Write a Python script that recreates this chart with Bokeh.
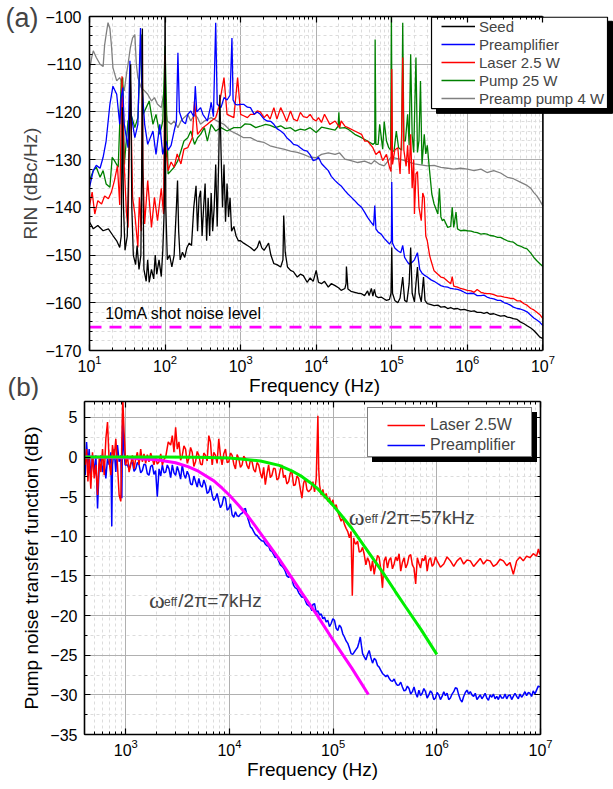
from bokeh.plotting import figure
from bokeh.models import (LogAxis, LinearAxis, Legend, LegendItem, Label, FixedTicker, Range1d)
from bokeh.layouts import column, row
from bokeh.embed import file_html
from bokeh.resources import INLINE
import math

FONT = "Liberation Sans"

# ---------------- panel (a): (log10 frequency [Hz], RIN [dBc/Hz]) ----------------
seed = [(1.00,-143.1),(1.05,-144.5),(1.11,-143.8),(1.18,-144.9),(1.25,-144.5),(1.31,-145.9),(1.36,-147.0),(1.40,-148.4),
 (1.42,-146),(1.435,-119),(1.45,-140),(1.47,-149),(1.50,-146),(1.53,-122),(1.545,-110),(1.56,-140),(1.58,-150),(1.61,-152),
 (1.63,-148),(1.655,-153),(1.68,-150),(1.695,-125),(1.70,-102.5),(1.705,-130),(1.72,-153),(1.75,-155.5),(1.77,-151),(1.79,-155.7),
 (1.82,-153),(1.85,-155),(1.87,-150),(1.89,-154),(1.92,-151),(1.95,-154.5),(1.97,-149),(1.99,-140),(2.00,-95),(2.01,-140),
 (2.03,-151),(2.06,-150),(2.09,-152.5),(2.12,-150),(2.15,-140),(2.165,-134.4),(2.18,-145),(2.20,-151),(2.23,-149.4),(2.26,-150.5),
 (2.29,-148.4),(2.32,-147.5),(2.35,-148),(2.38,-140),(2.41,-135.5),(2.43,-145),(2.45,-138),(2.47,-136.5),(2.49,-146),(2.51,-140),
 (2.53,-135),(2.55,-147),(2.57,-138),(2.59,-146),(2.61,-137),(2.63,-145),(2.65,-140),(2.67,-131),(2.69,-144),(2.71,-130),
 (2.725,-116.4),(2.74,-128),(2.76,-140),(2.78,-131),(2.80,-143),(2.82,-135),(2.84,-142),(2.86,-138),(2.88,-145),(2.91,-144),
 (2.94,-146),(2.97,-147),(3.0,-147),(3.04,-147.5),(3.09,-148),(3.13,-148.4),(3.18,-149.1),(3.22,-148.4),(3.25,-147),(3.28,-148.5),
 (3.31,-149),(3.35,-148),(3.37,-147.5),(3.40,-150),(3.44,-151.8),(3.48,-152),(3.53,-152.5),(3.56,-151),(3.57,-141.7),(3.59,-149.4),
 (3.62,-152.5),(3.66,-153.2),(3.70,-153.5),(3.75,-154.6),(3.79,-154),(3.83,-154.3),(3.88,-155.7),(3.92,-154.8),(3.96,-155.5),(4.0,-153.2),
 (4.03,-155.7),(4.07,-156),(4.11,-155.5),(4.16,-156.7),(4.20,-156),(4.25,-156.4),(4.30,-156.9),(4.33,-157.4),(4.38,-157),(4.395,-156),
 (4.40,-152.4),(4.42,-157.1),(4.46,-157.6),(4.51,-157.8),(4.55,-158),(4.60,-158.1),(4.64,-158.5),(4.68,-157.5),(4.70,-158.5),(4.73,-157),
 (4.75,-158.6),(4.77,-157.2),(4.79,-158.6),(4.82,-158.9),(4.86,-158.8),(4.90,-159.2),(4.93,-159.5),(4.97,-159.3),(4.99,-158),(5.0,-148.4),
 (5.01,-158),(5.04,-159.5),(5.08,-160),(5.11,-159),(5.145,-154.6),(5.17,-159.5),(5.20,-159.8),(5.23,-156),(5.25,-148.4),(5.27,-158),
 (5.30,-159.8),(5.32,-156),(5.34,-152.5),(5.36,-158),(5.39,-159.8),(5.42,-154.6),(5.44,-159.5),(5.47,-160.2),(5.52,-160.4),(5.56,-160.6),
 (5.61,-160.5),(5.65,-160.9),(5.70,-160.8),(5.74,-161.2),(5.78,-161),(5.82,-161.3),(5.87,-161.2),(5.91,-161.5),(5.96,-161.4),(6.0,-161.6),
 (6.05,-161.8),(6.09,-161.7),(6.13,-162),(6.18,-162),(6.22,-162.2),(6.26,-162),(6.30,-162.4),(6.35,-162.3),(6.40,-162.6),(6.44,-162.8),
 (6.49,-162.7),(6.53,-163),(6.57,-163.1),(6.61,-163.3),(6.66,-163.5),(6.70,-164.0),(6.75,-164.4),(6.79,-164.8),(6.84,-165.3),(6.88,-165.8),
 (6.92,-166.5),(6.96,-167.2),(7.0,-167.5)]

preamp = [(1.00,-135.8),(1.05,-132.3),(1.09,-131.2),(1.14,-131.8),(1.18,-129.5),(1.22,-126.1),(1.27,-118.4),(1.31,-114.6),(1.36,-116.3),
 (1.40,-122.6),(1.42,-117),(1.44,-114.9),(1.46,-122.6),(1.51,-127.5),(1.535,-109.3),(1.55,-120.5),(1.60,-125.4),(1.64,-122.6),(1.675,-102.4),
 (1.69,-113.5),(1.73,-122.6),(1.77,-126.8),(1.84,-124),(1.88,-128.9),(1.93,-122.6),(1.97,-128.9),(2.01,-126),(2.04,-128),(2.08,-127),
 (2.12,-124),(2.15,-122),(2.17,-107.6),(2.19,-120),(2.23,-121.9),(2.27,-122.5),(2.30,-120.5),(2.34,-119.8),(2.38,-121),(2.40,-114.6),
 (2.42,-120),(2.47,-119.1),(2.50,-120.5),(2.56,-121.9),(2.60,-119),(2.61,-118),(2.64,-121),(2.67,-101.3),(2.69,-118.4),(2.74,-119.1),
 (2.78,-117),(2.82,-117.5),(2.86,-116.5),(2.885,-104.5),(2.90,-117.5),(2.93,-118.4),(2.96,-118.5),(3.0,-118.4),(3.04,-118.4),(3.09,-119),
 (3.13,-119.1),(3.18,-120.5),(3.22,-120),(3.26,-120.5),(3.31,-121.5),(3.35,-121.9),(3.40,-122),(3.44,-122.6),(3.48,-123.5),(3.53,-124),
 (3.57,-124.5),(3.61,-125.4),(3.66,-126.1),(3.70,-126.8),(3.75,-127),(3.79,-127.5),(3.83,-128),(3.88,-128.2),(3.92,-129),(3.96,-130.2),
 (4.0,-130),(4.03,-129.5),(4.07,-130.8),(4.11,-131.5),(4.16,-132.3),(4.20,-133.5),(4.25,-134.4),(4.29,-135),(4.33,-135.5),(4.38,-136.5),
 (4.42,-137.2),(4.46,-137.8),(4.51,-138.6),(4.55,-139.3),(4.60,-140),(4.64,-141),(4.68,-142.1),(4.72,-143),(4.76,-143.8),(4.775,-139.6),
 (4.79,-144.5),(4.82,-145.2),(4.86,-145.6),(4.90,-146.5),(4.93,-147),(4.97,-147.7),(4.995,-147),(5.0,-134.7),(5.01,-147.5),(5.04,-148.5),
 (5.08,-149.1),(5.12,-149.5),(5.145,-148.0),(5.17,-150.5),(5.21,-151.5),(5.23,-151.9),(5.27,-151.5),(5.30,-151),(5.34,-149.5),(5.37,-153),
 (5.40,-153.8),(5.43,-154.2),(5.47,-154.6),(5.52,-155.2),(5.56,-155.5),(5.61,-156),(5.65,-156.4),(5.69,-156.6),(5.74,-156.7),(5.78,-157),
 (5.82,-157.1),(5.87,-157.2),(5.91,-157.4),(5.96,-157.8),(6.0,-158.1),(6.05,-158),(6.09,-158.1),(6.13,-158.5),(6.18,-158.5),(6.22,-158.4),
 (6.26,-158.8),(6.30,-159),(6.35,-159.2),(6.40,-159.5),(6.44,-159.5),(6.49,-160),(6.53,-160.2),(6.57,-160.5),(6.61,-160.9),(6.66,-161.2),
 (6.70,-161.3),(6.75,-161.6),(6.79,-161.9),(6.84,-162.6),(6.88,-163.2),(6.92,-163.6),(6.96,-164.1),(7.0,-164.8)]

laser = [(1.00,-139.7),(1.035,-136.8),(1.07,-141.4),(1.11,-138.6),(1.16,-139.3),(1.20,-137.6),(1.25,-138.2),(1.29,-136.8),(1.33,-134.4),
 (1.37,-131.3),(1.40,-139.5),(1.43,-112.5),(1.46,-131.5),(1.49,-141.4),(1.51,-144.2),(1.54,-112.5),(1.57,-137.9),(1.60,-141.4),(1.64,-148.4),
 (1.66,-137.9),(1.684,-145),(1.695,-125),(1.70,-104),(1.705,-131.6),(1.73,-143.5),(1.77,-134.4),(1.82,-144.2),(1.86,-137.9),(1.90,-142.8),
 (1.95,-136),(1.98,-141.4),(2.00,-108),(2.01,-127.5),(2.04,-132.3),(2.08,-130.5),(2.12,-131.6),(2.16,-128.8),(2.21,-130.9),(2.25,-127.8),
 (2.30,-127.5),(2.36,-125.4),(2.39,-117.7),(2.43,-124.7),(2.50,-123.3),(2.56,-122.6),(2.61,-121.9),(2.67,-121.2),(2.71,-119.1),(2.78,-112.8),
 (2.82,-120.5),(2.91,-121.2),(2.96,-112.8),(3.0,-120.5),(3.04,-120.8),(3.09,-121.2),(3.13,-120.5),(3.18,-120.5),(3.22,-119.8),(3.26,-120),
 (3.31,-121.2),(3.35,-120.5),(3.39,-121.5),(3.44,-119.1),(3.48,-121.5),(3.53,-119.1),(3.57,-120.5),(3.61,-122),(3.66,-119.8),(3.70,-121.5),
 (3.75,-121.9),(3.79,-120.1),(3.83,-121),(3.88,-121.2),(3.92,-120.5),(3.96,-121.5),(4.0,-121.9),(4.03,-121.2),(4.07,-122.2),(4.11,-120.5),
 (4.18,-122.6),(4.25,-121.9),(4.31,-123.3),(4.33,-121.9),(4.38,-123),(4.42,-123.3),(4.51,-124),(4.60,-124.7),(4.64,-126.1),(4.68,-126.1),
 (4.75,-127.5),(4.79,-128.9),(4.84,-128.2),(4.88,-130.2),(4.93,-128.9),(4.97,-131.6),(4.99,-132.5),(5.0,-111),(5.01,-131),(5.04,-128),
 (5.08,-127.5),(5.11,-133),(5.13,-125),(5.145,-108.6),(5.16,-128),(5.19,-131.4),(5.21,-127),(5.23,-133),(5.25,-124.7),(5.27,-136),
 (5.29,-130),(5.30,-141.4),(5.32,-133),(5.34,-132.5),(5.36,-140),(5.39,-142.8),(5.41,-137),(5.43,-138),(5.45,-146),(5.47,-147),
 (5.50,-150),(5.52,-151.2),(5.56,-153.3),(5.61,-154),(5.65,-154.6),(5.69,-154.8),(5.74,-155.5),(5.78,-156),(5.80,-154.5),(5.82,-156.5),
 (5.87,-156.7),(5.91,-157),(5.96,-157.2),(6.0,-157.4),(6.05,-157.5),(6.09,-157.8),(6.13,-157.2),(6.18,-157.8),(6.22,-158),(6.26,-158.1),
 (6.30,-158.1),(6.35,-158.3),(6.40,-158.6),(6.44,-158.6),(6.49,-158.8),(6.53,-158.9),(6.57,-159.1),(6.61,-159.1),(6.66,-159.6),(6.70,-159.6),
 (6.75,-160.2),(6.79,-160.5),(6.84,-161.2),(6.88,-161.5),(6.92,-162),(6.96,-162.5),(7.0,-163.3)]

pump = [(1.00,-134.4),(1.05,-132.3),(1.09,-131.6),(1.14,-133.7),(1.18,-132.3),(1.22,-135.1),(1.27,-135.8),(1.30,-129.5),(1.33,-130.2),
 (1.38,-131.6),(1.42,-113.5),(1.44,-112.8),(1.46,-131),(1.51,-121.9),(1.55,-120.5),(1.60,-123.3),(1.64,-121.2),(1.684,-103.8),(1.71,-120.5),
 (1.75,-119.1),(1.79,-117.7),(1.84,-122.6),(1.88,-120.5),(1.93,-124.7),(1.97,-121.9),(2.00,-106.2),(2.04,-133.0),(2.08,-132.3),(2.12,-131.6),
 (2.17,-130.2),(2.21,-128.2),(2.25,-126.1),(2.30,-125.4),(2.34,-124),(2.39,-126.8),(2.43,-125.4),(2.47,-124.7),(2.52,-123.3),(2.56,-126.1),
 (2.61,-122.6),(2.67,-124),(2.74,-123.3),(2.82,-124),(2.91,-123.3),(3.0,-123.3),(3.06,-122.5),(3.13,-122.6),(3.20,-123.3),(3.26,-123),
 (3.33,-122.6),(3.39,-122.8),(3.46,-123.3),(3.53,-122.9),(3.59,-123.5),(3.66,-123.3),(3.72,-124),(3.79,-123.6),(3.85,-123.8),(3.92,-123.3),
 (4.0,-124.3),(4.07,-123.2),(4.16,-123.5),(4.25,-123.8),(4.29,-123),(4.30,-120.1),(4.31,-123.4),(4.38,-123.3),(4.42,-123.6),(4.51,-124.7),
 (4.60,-125.4),(4.68,-126.1),(4.75,-126.8),(4.775,-126.5),(4.78,-104.8),(4.79,-126.8),(4.82,-126.8),(4.84,-122.6),(4.88,-127.8),(4.90,-122),
 (4.93,-126.1),(4.96,-127.5),(4.985,-128),(4.995,-99.5),(5.005,-128.2),(5.03,-128.2),(5.06,-124),(5.09,-127.5),(5.13,-128),(5.145,-101.3),
 (5.16,-126),(5.18,-126.1),(5.21,-120.5),(5.23,-127),(5.25,-107.9),(5.27,-125),(5.29,-128.5),(5.32,-108.6),(5.34,-128.5),(5.36,-126),
 (5.38,-113.5),(5.40,-131),(5.43,-124.7),(5.45,-128.8),(5.47,-127),(5.50,-132.3),(5.53,-137.2),(5.56,-139.3),(5.61,-141.4),(5.63,-136),
 (5.65,-142),(5.67,-142.8),(5.69,-142.5),(5.74,-144.2),(5.78,-144),(5.80,-140),(5.82,-144.2),(5.85,-141),(5.87,-144.5),(5.91,-144.9),
 (5.96,-144.8),(6.0,-144.9),(6.05,-145),(6.09,-145.2),(6.13,-145.3),(6.18,-145.6),(6.22,-145.5),(6.26,-145.6),(6.30,-145.9),(6.35,-146),
 (6.40,-146.3),(6.44,-146.3),(6.49,-146.7),(6.53,-147),(6.57,-147.2),(6.61,-147.3),(6.66,-147.9),(6.70,-148.1),(6.75,-148.5),(6.79,-148.7),
 (6.84,-149.6),(6.88,-150.5),(6.92,-151.2),(6.96,-151.8),(7.0,-152.4)]

preamp_pump = [(1.00,-111.4),(1.03,-108.5),(1.05,-107.2),(1.09,-108.6),(1.14,-110.0),(1.18,-110.5),(1.20,-106),(1.22,-103.8),(1.245,-101.3),
 (1.27,-102.5),(1.29,-106),(1.31,-110.7),(1.36,-113.5),(1.40,-112.8),(1.42,-113.5),(1.46,-115.6),(1.49,-112),(1.51,-110),(1.54,-106.6),
 (1.57,-104.5),(1.60,-103.8),(1.62,-110.0),(1.64,-112.8),(1.684,-114.9),(1.73,-115.6),(1.77,-116.3),(1.82,-117.7),(1.86,-117),(1.90,-118.4),
 (1.95,-119.1),(1.98,-116.3),(2.03,-121.9),(2.08,-122.6),(2.12,-121.9),(2.17,-123.3),(2.21,-121.9),(2.25,-121.2),(2.30,-120.5),(2.34,-121.9),
 (2.39,-120.5),(2.43,-121.2),(2.47,-122.6),(2.52,-121.9),(2.61,-121.2),(2.69,-121.9),(2.78,-122.6),(2.87,-124),(2.96,-124.7),(3.04,-125.4),
 (3.13,-125.4),(3.22,-126.1),(3.31,-126.4),(3.39,-127.1),(3.48,-127.5),(3.57,-127.8),(3.66,-128.2),(3.75,-128.5),(3.83,-128.9),(3.92,-129.5),
 (4.0,-129.6),(4.07,-128.9),(4.16,-128.6),(4.25,-128.9),(4.31,-128.6),(4.38,-129.9),(4.46,-130.2),(4.55,-130.6),(4.64,-130.3),(4.73,-130.9),
 (4.77,-130.2),(4.84,-131.0),(4.90,-131.3),(4.99,-129.5),(5.08,-129.8),(5.17,-130.2),(5.30,-130.9),(5.47,-131.3),(5.56,-131.2),(5.65,-131.6),
 (5.74,-131.8),(5.82,-132),(5.91,-131.8),(6.0,-132),(6.09,-132.3),(6.18,-132),(6.26,-132.7),(6.35,-132.3),(6.44,-132.8),(6.53,-133.7),
 (6.61,-134),(6.70,-134.7),(6.79,-135.4),(6.84,-136),(6.88,-136.9),(6.92,-137.6),(6.96,-138.6),(7.0,-139.7)]

shot_noise_logf = [1.0, 6.8]
shot_noise_db = [-165.1, -165.1]

# ---------------- panel (b): (log10 frequency [Hz], transfer function [dB]) ----------------
tf_laser = [(2.609,-1.0),(2.622,1.0),(2.635,-3.1),(2.647,-0.2),(2.663,-4.0),(2.679,0.6),(2.696,-2.7),(2.712,-1.0),(2.728,-4.8),(2.744,-0.2),
 (2.760,-1.9),(2.776,1.0),(2.792,-2.3),(2.808,2.3),(2.824,4.4),(2.840,-0.6),(2.856,-2.3),(2.872,1.5),(2.888,-0.2),(2.904,2.3),(2.920,-1.0),
 (2.936,-4.8),(2.952,-5.6),(2.962,1.9),(2.971,7.5),(2.984,3.1),(3.0,-1.0),(3.016,0.2),(3.032,-1.9),(3.048,-1.0),(3.064,0.2),(3.080,-1.5),
 (3.096,-0.2),(3.112,0.6),(3.128,-1.0),(3.144,1.0),(3.160,-0.6),(3.176,0.4),(3.192,-0.8),(3.208,0.3),(3.224,-0.6),(3.240,0.5),(3.256,-0.2),
 (3.272,-1.0),(3.288,0.0),(3.304,-0.9),(3.321,-0.6),(3.337,0.4),(3.353,-1.0),(3.369,-0.3),(3.385,0.0),(3.410,1.9),(3.433,1.5),(3.449,2.7),
 (3.465,0.6),(3.481,3.75),(3.497,1.0),(3.513,1.9),(3.529,-0.4),(3.545,0.2),(3.561,1.4),(3.577,1.0),(3.593,-0.8),(3.609,-0.2),(3.625,1.2),
 (3.641,0.6),(3.657,-1.2),(3.673,-0.6),(3.689,0.7),(3.705,0.2),(3.721,-0.9),(3.737,-1.0),(3.753,0.5),(3.769,0.2),(3.785,-0.5),(3.801,2.7),
 (3.817,1.9),(3.833,-1.0),(3.849,0.6),(3.865,0.2),(3.881,-0.8),(3.897,2.3),(3.913,0.2),(3.929,-1.0),(3.945,0.4),(3.962,1.0),(3.978,-0.7),
 (3.994,-0.6),(4.010,0.5),(4.026,0.2),(4.042,-0.9),(4.058,-1.5),(4.074,0.3),(4.090,-0.2),(4.106,-1.3),(4.122,-1.0),(4.138,0.1),(4.154,-0.2),
 (4.170,-1.1),(4.186,-1.5),(4.202,-0.4),(4.218,-0.6),(4.234,-1.6),(4.250,-1.9),(4.266,-0.7),(4.282,-1.0),(4.298,-2.0),(4.314,-2.7),
 (4.330,-1.3),(4.346,-3.5),(4.362,-2.1),(4.378,-1.0),(4.394,-2.6),(4.410,-2.3),(4.426,-1.4),(4.442,-1.5),(4.458,-2.9),(4.474,-2.7),
 (4.490,-1.6),(4.506,-1.0),(4.522,-2.6),(4.538,-2.3),(4.554,-3.4),(4.571,-3.1),(4.587,-2.0),(4.603,-1.9),(4.619,-3.6),(4.635,-3.5),
 (4.651,-2.4),(4.667,-2.7),(4.683,-4.0),(4.699,-5.2),(4.715,-3.3),(4.731,-2.7),(4.747,-4.1),(4.763,-4.4),(4.789,-4.0),(4.805,-3.1),
 (4.821,-4.4),(4.837,-2.7),(4.853,5.2),(4.861,-1.5),(4.869,-3.5),(4.885,-4.8),(4.901,-4.1),(4.917,-5.2),(4.933,-4.6),(4.949,-5.6),
 (4.965,-5.1),(4.981,-6.0),(4.997,-5.4),(5.013,-6.5),(5.029,-6.0),(5.045,-6.9),(5.061,-7.5),(5.077,-8.1),(5.093,-7.7),(5.109,-8.5),
 (5.125,-9.0),(5.141,-9.4),(5.157,-10.2),(5.173,-9.4),(5.185,-17.5),(5.198,-10.2),(5.209,-10.8),(5.220,-11.0),(5.236,-10.6),(5.252,-12.0),
 (5.268,-11.9),(5.284,-11.4),(5.300,-12.3),(5.316,-13.6),(5.332,-12.7),(5.348,-13.2),(5.364,-14.4),(5.380,-13.1),(5.396,-14.8),
 (5.412,-13.5),(5.428,-12.4),(5.444,-12.7),(5.460,-14.2),(5.476,-16.5),(5.492,-13.1),(5.508,-12.6),(5.524,-14.0),(5.540,-13.0),
 (5.556,-12.7),(5.572,-14.1),(5.588,-13.5),(5.604,-12.6),(5.620,-13.1),(5.636,-12.2),(5.652,-14.4),(5.668,-13.3),(5.684,-12.7),
 (5.700,-14.0),(5.716,-13.5),(5.732,-12.5),(5.748,-12.3),(5.764,-13.6),(5.780,-14.0),(5.796,-16.0),(5.812,-12.7),(5.827,-13.4),
 (5.843,-14.0),(5.859,-12.8),(5.875,-13.1),(5.891,-12.4),(5.907,-14.4),(5.923,-13.0),(5.939,-12.7),(5.955,-13.8),(5.971,-13.5),
 (5.987,-12.6),(6.003,-13.1),(6.035,-13.9),(6.067,-13.5),(6.099,-12.6),(6.131,-13.1),(6.163,-13.8),(6.195,-13.1),(6.227,-12.7),
 (6.259,-13.5),(6.291,-13.0),(6.323,-13.1),(6.355,-13.8),(6.387,-13.3),(6.419,-12.8),(6.450,-13.5),(6.482,-13.0),(6.514,-13.1),
 (6.546,-13.8),(6.578,-13.5),(6.610,-12.9),(6.642,-13.1),(6.674,-13.7),(6.706,-13.3),(6.738,-14.8),(6.770,-13.1),(6.802,-12.6),
 (6.834,-13.1),(6.866,-12.5),(6.898,-12.7),(6.930,-12.2),(6.962,-12.5),(6.980,-11.6),(6.994,-12.3)]

tf_preamp = [(2.609,-2.3),(2.622,1.9),(2.635,-1.0),(2.647,1.0),(2.663,-2.7),(2.679,0.2),(2.696,-1.9),(2.712,0.2),(2.728,-6.5),(2.744,-1.0),
 (2.760,0.2),(2.776,-1.9),(2.792,-0.6),(2.808,-2.7),(2.824,-0.2),(2.840,-1.0),(2.856,0.6),(2.865,-8.75),(2.872,-1.0),(2.888,1.0),
 (2.904,-1.9),(2.920,1.5),(2.936,-0.6),(2.952,0.2),(2.962,-5.2),(2.971,5.4),(2.981,1.0),(2.994,-1.0),(3.016,-1.0),(3.032,-1.5),
 (3.048,-0.8),(3.064,-0.6),(3.080,-1.8),(3.096,-1.5),(3.112,-0.7),(3.128,-1.0),(3.144,-2.0),(3.160,-1.7),(3.176,-0.9),(3.192,-1.0),
 (3.208,-2.1),(3.224,-2.3),(3.240,-1.2),(3.256,-1.0),(3.272,-2.2),(3.288,-1.7),(3.304,-5.0),(3.321,-1.5),(3.337,-2.4),(3.353,-1.0),
 (3.369,-2.0),(3.385,-1.9),(3.401,-1.0),(3.417,-1.5),(3.433,-2.6),(3.449,-1.0),(3.465,-2.0),(3.481,-2.3),(3.497,-1.2),(3.513,-1.9),
 (3.529,-2.8),(3.545,-1.0),(3.561,-2.2),(3.577,-2.7),(3.593,-1.8),(3.609,-2.3),(3.625,-3.4),(3.641,-3.5),(3.657,-2.4),(3.673,-3.1),
 (3.689,-3.8),(3.705,-2.7),(3.721,-3.6),(3.737,-3.8),(3.753,-2.9),(3.769,-3.5),(3.785,-4.6),(3.801,-4.4),(3.817,-3.6),(3.833,-4.8),
 (3.849,-5.5),(3.865,-5.2),(3.881,-4.6),(3.897,-5.6),(3.913,-6.4),(3.929,-6.0),(3.945,-5.0),(3.962,-5.2),(3.978,-6.7),(3.994,-6.5),
 (4.010,-5.9),(4.026,-7.3),(4.042,-7.6),(4.058,-6.9),(4.074,-7.4),(4.090,-7.5),(4.106,-7.2),(4.122,-7.1),(4.138,-6.6),(4.154,-6.5),
 (4.170,-7.4),(4.186,-8.1),(4.202,-8.8),(4.218,-9.0),(4.234,-9.4),(4.250,-9.8),(4.266,-9.9),(4.282,-10.2),(4.298,-10.4),(4.314,-10.6),
 (4.330,-10.6),(4.346,-11.0),(4.362,-11.2),(4.378,-11.25),(4.394,-11.8),(4.410,-11.9),(4.426,-12.3),(4.442,-12.7),(4.458,-12.6),
 (4.474,-13.1),(4.490,-13.6),(4.506,-13.75),(4.522,-14.0),(4.538,-14.4),(4.554,-15.0),(4.571,-15.2),(4.587,-14.9),(4.603,-15.4),
 (4.619,-16.2),(4.635,-16.5),(4.651,-16.6),(4.667,-17.1),(4.683,-17.4),(4.699,-17.7),(4.715,-17.6),(4.731,-18.1),(4.747,-18.6),
 (4.763,-18.75),(4.779,-18.9),(4.795,-19.4),(4.805,-18.6),(4.821,-18.5),(4.837,-19.6),(4.853,-19.4),(4.869,-19.9),(4.885,-19.8),
 (4.901,-20.4),(4.917,-20.2),(4.933,-20.8),(4.949,-20.6),(4.965,-21.4),(4.981,-21.0),(4.997,-20.4),(5.013,-20.6),(5.029,-21.6),
 (5.045,-21.9),(5.061,-21.2),(5.077,-21.5),(5.093,-22.3),(5.109,-22.7),(5.125,-23.2),(5.141,-23.5),(5.157,-24.1),(5.173,-24.8),
 (5.189,-24.9),(5.204,-24.6),(5.220,-24.3),(5.236,-24.0),(5.249,-23.4),(5.262,-22.7),(5.273,-23.8),(5.284,-24.8),(5.300,-25.2),
 (5.316,-25.6),(5.332,-24.9),(5.348,-24.4),(5.364,-25.3),(5.380,-26.0),(5.396,-25.4),(5.412,-25.6),(5.428,-26.3),(5.444,-26.5),
 (5.460,-26.9),(5.476,-27.3),(5.492,-27.5),(5.508,-27.7),(5.524,-27.5),(5.540,-27.9),(5.556,-28.2),(5.572,-28.3),(5.588,-28.0),
 (5.604,-28.5),(5.620,-28.8),(5.636,-28.75),(5.652,-28.4),(5.668,-29.0),(5.684,-29.5),(5.700,-29.4),(5.716,-28.9),(5.732,-29.2),
 (5.748,-29.9),(5.764,-29.6),(5.780,-29.0),(5.796,-29.8),(5.812,-30.3),(5.827,-29.4),(5.843,-30.1),(5.859,-29.8),(5.875,-29.2),
 (5.891,-29.6),(5.907,-30.4),(5.923,-30.0),(5.939,-29.5),(5.955,-29.8),(5.971,-30.6),(5.987,-30.4),(6.003,-29.7),(6.019,-30.0),
 (6.035,-30.6),(6.051,-30.2),(6.067,-29.6),(6.083,-30.1),(6.099,-29.8),(6.115,-30.6),(6.131,-30.4),(6.147,-29.9),(6.163,-29.6),
 (6.179,-29.1),(6.195,-29.2),(6.211,-30.0),(6.227,-30.6),(6.243,-30.9),(6.259,-30.2),(6.275,-29.7),(6.291,-29.4),(6.307,-29.9),
 (6.323,-29.6),(6.339,-30.0),(6.355,-30.2),(6.371,-29.8),(6.387,-30.6),(6.403,-30.3),(6.419,-30.0),(6.435,-30.5),(6.450,-30.2),
 (6.466,-29.8),(6.482,-30.4),(6.498,-30.7),(6.514,-30.0),(6.530,-30.3),(6.546,-29.9),(6.562,-30.5),(6.578,-30.2),(6.594,-30.6),
 (6.610,-30.0),(6.626,-30.4),(6.642,-30.4),(6.658,-29.9),(6.674,-30.5),(6.690,-30.1),(6.706,-30.0),(6.722,-30.6),(6.738,-30.2),
 (6.754,-29.8),(6.770,-30.2),(6.786,-30.5),(6.802,-29.9),(6.818,-30.3),(6.834,-30.0),(6.850,-29.6),(6.866,-30.1),(6.882,-29.7),
 (6.898,-29.8),(6.914,-30.2),(6.930,-29.5),(6.946,-29.9),(6.962,-29.4),(6.978,-28.9),(6.994,-29.0)]

fit57 = [(2.60,0.0),(3.0,-0.0),(3.3,-0.01),(3.7,-0.03),(4.0,-0.13),(4.3,-0.50),(4.48,-1.06),(4.6,-1.74),(4.7,-2.48),(4.78,-3.24),
 (4.85,-3.99),(4.9,-4.68),(5.0,-6.10),(5.09,-7.53),(5.18,-8.99),(5.3,-11.24),(5.4,-13.1),(5.48,-14.58),(5.6,-16.97),(5.7,-18.92),
 (5.85,-21.81),(6.0,-24.90)]
fit7 = [(2.60,-0.01),(3.0,-0.09),(3.3,-0.34),(3.48,-0.73),(3.6,-1.22),(3.7,-1.79),(3.85,-3.01),(3.93,-3.94),(4.0,-4.83),(4.09,-6.12),
 (4.18,-7.48),(4.3,-9.62),(4.48,-12.87),(4.7,-17.16),(4.85,-20.04),(5.0,-23.12),(5.18,-26.63),(5.34,-29.95)]

series_a = [("Seed", seed, "#000000"), ("Preamplifier", preamp, "#0000ff"), ("Laser 2.5 W", laser, "#ff0000"),
            ("Pump 25 W", pump, "#008000"), ("Preamp pump 4 W", preamp_pump, "#808080")]


def unz(pairs):
    return [10 ** p[0] for p in pairs], [p[1] for p in pairs]


def style_axis(ax, labels=True):
    ax.axis_line_color = "black"
    ax.axis_line_width = 1.6
    ax.major_tick_line_color = "black"
    ax.major_tick_line_width = 1.2
    ax.minor_tick_line_color = "black"
    ax.major_tick_in = 6
    ax.major_tick_out = 0
    ax.minor_tick_in = 3
    ax.minor_tick_out = 0
    ax.major_label_text_font = FONT
    ax.major_label_text_color = "black"
    ax.major_label_text_font_size = "16px" if labels else "2px"
    if not labels:
        ax.major_label_text_alpha = 0
    ax.axis_label_text_font = FONT
    ax.axis_label_text_font_size = "19px"
    ax.axis_label_text_font_style = "normal"
    ax.axis_label_text_color = "black"


def style_fig(p, xt, yt, with_right=True, xbounds="auto"):
    bottom, left = p.xaxis[0], p.yaxis[0]
    bottom.ticker = xt
    left.ticker = yt
    p.xgrid[0].ticker = xt
    p.ygrid[0].ticker = yt
    for g in (p.xgrid[0], p.ygrid[0]):
        g.grid_line_color = "#b0b0b0"
        g.grid_line_width = 1
        g.minor_grid_line_color = "#dcdcdc"
        g.minor_grid_line_dash = "3 3"
        g.minor_grid_line_width = 1
    style_axis(bottom)
    style_axis(left)
    bottom.bounds = xbounds
    top = LogAxis(ticker=xt, bounds=xbounds)
    style_axis(top, labels=False)
    top.major_label_standoff = 0
    p.add_layout(top, "above")
    if with_right:
        right = LinearAxis(ticker=yt)
        style_axis(right, labels=False)
        right.major_label_standoff = 0
        p.add_layout(right, "right")
    p.outline_line_color = None
    p.background_fill_color = "white"
    p.border_fill_color = "white"
    return bottom, left


def box_legends(p, dummy, x, y, w, h):
    for dx, dy, fill, border in ((5, -5, "black", "black"), (0, 0, "white", "black")):
        lg = Legend(items=[LegendItem(label="x", renderers=[dummy])], location=(x + dx, y + dy),
                    padding=0, spacing=0, margin=0, glyph_width=2, glyph_height=h, label_width=w - 2,
                    label_height=h, label_standoff=0, background_fill_color=fill, background_fill_alpha=1,
                    border_line_color=border, border_line_width=1.2, label_text_alpha=0,
                    label_text_font_size="8px")
        p.add_layout(lg)


# ---------------- left strip with panel letters and the RIN axis title ----------------
pl = figure(width=42, height=400, x_range=Range1d(0, 1), y_range=Range1d(0, 1), output_backend="svg",
            toolbar_location=None, min_border=0, min_border_left=0, min_border_right=0, min_border_top=0,
            min_border_bottom=0, x_axis_location=None, y_axis_location=None, frame_align=False)
pl.grid.visible = False
pl.outline_line_color = None
pl.add_layout(Label(x=5, y=382.5, x_units="screen", y_units="screen", text="(a)", text_font=FONT,
                    text_font_size="27px", text_baseline="middle"))
pl.add_layout(Label(x=7, y=14, x_units="screen", y_units="screen", text="(b)", text_font=FONT,
                    text_font_size="26px", text_baseline="middle"))
pl.add_layout(Label(x=30, y=217, x_units="screen", y_units="screen", text="RIN (dBc/Hz)", text_font=FONT,
                    text_font_size="19px", text_baseline="middle", text_align="center", angle=math.pi / 2))

# ---------------- figure (a) ----------------
XA_END = 10 ** (1 + 527 / 76)
pa = figure(width=571, height=400, x_axis_type="log", x_range=Range1d(10, XA_END), y_range=Range1d(-170, -100),
            output_backend="svg", toolbar_location=None, min_border_left=44, min_border_right=0,
            min_border_top=16, min_border_bottom=50, frame_align=False)
xa_t = FixedTicker(ticks=[10 ** k for k in range(1, 8)],
                   minor_ticks=[m * 10 ** k for k in range(1, 7) for m in range(2, 10)])
ya_t = FixedTicker(ticks=list(range(-170, -99, 10)), minor_ticks=list(range(-170, -99, 2)))
a_bottom, a_left = style_fig(pa, xa_t, ya_t, with_right=False, xbounds=(10, 1e7))
a_bottom.axis_label = "Frequency (Hz)" + "\u00a0" * 14
a_bottom.major_label_standoff = 4
a_bottom.axis_label_standoff = 0
a_left.major_label_standoff = 8

# horizontal grid lines stop at the 10^7 edge of the panel
ygrid_a = pa.ygrid[0]
has_cross_bounds = "cross_bounds" in ygrid_a.properties()
if has_cross_bounds:
    ygrid_a.cross_bounds = (10, 1e7)

renderers_a = []
for name, data, color in series_a[::-1]:
    fx, fy = unz(data)
    r = pa.line(fx, fy, line_color=color, line_width=1.3)
    renderers_a.append((name, r))
renderers_a = renderers_a[::-1]

sx = [10 ** v for v in shot_noise_logf]
pa.line(sx, shot_noise_db, line_color="#ff00ff", line_width=2.6, line_dash="12 8")
pa.add_layout(Label(x=16.2, y=-162.3, text="10mA shot noise level", text_font=FONT,
                    text_font_size="16px", text_color="black", text_baseline="alphabetic"))

if not has_cross_bounds:
    pa.quad(left=[1e7], right=[XA_END * 2], bottom=[-200], top=[-90], fill_color="white", fill_alpha=1,
            line_alpha=0)
# right frame edge at 10^7
pa.line(x=[1e7, 1e7], y=[-200, -90], line_color="black", line_width=1.6)
# legend frame with drop shadow
pa.quad(left=[10 ** 5.592], right=[10 ** 7.921], bottom=[-120.3], top=[-101.0],
        fill_color="black", fill_alpha=1, line_color="black", line_width=1)
pa.quad(left=[10 ** 5.526], right=[10 ** 7.855], bottom=[-119.3], top=[-100.15],
        fill_color="white", fill_alpha=1, line_color="black", line_width=1.2)
leg_a = Legend(items=[LegendItem(label=n, renderers=[r]) for n, r in renderers_a], location=(352, 243),
               padding=0, spacing=0, margin=0, glyph_width=34, glyph_height=18, label_height=18,
               label_standoff=4, label_text_font=FONT, label_text_font_size="15px",
               background_fill_alpha=0, border_line_alpha=0)
pa.add_layout(leg_a)

# ---------------- figure (b) ----------------
pb = figure(width=613, height=389, x_axis_type="log", x_range=Range1d(400, 1e7), y_range=Range1d(-35, 7),
            output_backend="svg", toolbar_location=None, min_border_left=84, min_border_right=73,
            min_border_top=1, min_border_bottom=55, frame_align=False)
xb_t = FixedTicker(ticks=[10 ** k for k in range(3, 8)],
                   minor_ticks=[m * 100 for m in range(4, 10)] + [m * 10 ** k for k in range(3, 7) for m in range(2, 10)])
yb_t = FixedTicker(ticks=list(range(-35, 6, 5)), minor_ticks=[v / 2 for v in range(-70, 15, 5)])
b_bottom, b_left = style_fig(pb, xb_t, yb_t)
b_bottom.axis_label = "Frequency (Hz)"
b_left.axis_label = "Pump noise transfer function (dB)"
b_bottom.major_label_standoff = 4
b_bottom.axis_label_standoff = 0
b_left.major_label_standoff = 7
b_left.axis_label_standoff = 5

fx, fy = unz(tf_preamp)
rb_pre = pb.line(fx, fy, line_color="#0000ff", line_width=1.5)
fx, fy = unz(tf_laser)
rb_las = pb.line(fx, fy, line_color="#ff0000", line_width=1.5)
fx, fy = unz(fit7)
pb.line(fx, fy, line_color="#ff00ff", line_width=3)
fx, fy = unz(fit57)
pb.line(fx, fy, line_color="#00ee00", line_width=3)

dummy_b = pb.line(x=[1e9, 1e9], y=[-50, -50], line_alpha=0)
box_legends(pb, dummy_b, 283, 277, 163, 48)
leg_b = Legend(items=[LegendItem(label="Laser 2.5W", renderers=[rb_las]),
                      LegendItem(label="Preamplifier", renderers=[rb_pre])], location=(303, 279),
               padding=0, spacing=0, margin=0, glyph_width=38, glyph_height=20, label_height=20,
               label_standoff=5, label_text_font=FONT, label_text_font_size="16px",
               background_fill_alpha=0, border_line_alpha=0)
pb.add_layout(leg_b)

annots = [(5.151, 5.305, 5.459, -7.6, "57kHz"), (3.225, 3.369, 3.507, -18.05, "7kHz")]
for l1, l2, l3, yb, freq in annots:
    pb.add_layout(Label(x=10 ** l1, y=yb, text="\u03c9", text_font="Liberation Serif", text_font_size="24px",
                        text_baseline="alphabetic"))
    pb.add_layout(Label(x=10 ** l2, y=yb - 0.2, text="eff", text_font=FONT, text_font_size="12px",
                        text_baseline="alphabetic"))
    pb.add_layout(Label(x=10 ** l3, y=yb, text="/2\u03c0=" + freq, text_font=FONT, text_font_size="19px",
                        text_baseline="alphabetic"))

layout = column(row(pl, pa, spacing=0), pb, spacing=0)
open("out.html", "w").write(file_html(layout, INLINE))
